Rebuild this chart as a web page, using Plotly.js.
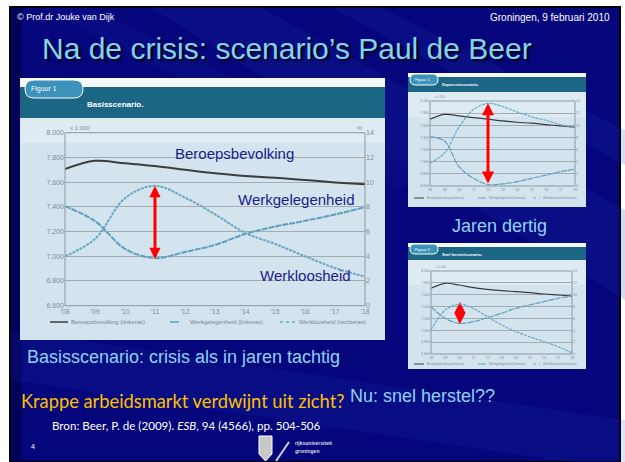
<!DOCTYPE html>
<html><head><meta charset="utf-8">
<script src="https://cdn.plot.ly/plotly-3.0.1.min.js"></script>
<style>html,body{margin:0;padding:0;background:#fff;}#c{width:625px;height:462px;}</style>
</head><body><div id="c"></div>
<script>
// ---- data ----
const years = [2008,2009,2010,2011,2012,2013,2014,2015,2016,2017,2018];
const yearLabels = ["'08","'09","'10","'11","'12","'13","'14","'15","'16","'17","'18"];
const leftTicks = [6600,6800,7000,7200,7400,7600,7800,8000];
const rightTicks = [0,2,4,6,8,10,12,14];

// Figuur 1 - Basisscenario
const bbMain = [7705,7772,7752,7730,7700,7672,7650,7636,7617,7598,7582];
const wgMain = [7405,7285,7060,6985,7035,7092,7180,7240,7287,7338,7397];
const wlMain = [4.0,5.4,8.7,9.7,8.75,7.4,5.9,5.0,4.0,3.05,2.35];

// Figuur 2 - Depressiescenario (jaren dertig)
const bbS1 = [7700,7780,7754,7727,7700,7672,7650,7634,7612,7590,7568];
const wgS1 = [7409,7340,6920,6726,6625,6635,6671,6726,6780,6835,6879];
const wlS1 = [3.8,5.4,9.7,12.6,13.6,13.1,12.2,11.4,10.8,10.1,9.6];

// Figuur 3 - Snel herstel
const bbS2 = [7708,7792,7764,7719,7691,7668,7652,7635,7612,7595,7578];
const wgS2 = [7398,7202,7117,7145,7213,7286,7370,7427,7483,7539,7578];
const wlS2 = [4.05,7.4,8.4,7.7,6.3,4.9,3.8,2.9,2.1,1.25,0.2];

// highlight marks (year, low, high)
const mainArrow = [2011, 6965, 7568];
const s1Arrow = [2012, 6618, 7962];
const s2Diamond = [2010.05, 7290];

const seriesNames = ["Beroepsbevolking (linkeras)","Werkgelegenheid (linkeras)","Werkloosheid (rechteras)"];

// ---- helpers ----
const W=625,H=462;
const X=v=>v/W, Y=v=>1-v/H;
const dom=(a,b)=>[X(a),X(b)];
const domY=(top,bot)=>[Y(bot),Y(top)];
const C_BB='#3a3d40', C_WG='#5e9fbf', C_WL='#6aa9c6';

function lineTraces(bb,wg,wl,xa,yl,yr,w){
  return [
    {x:years,y:bb,xaxis:xa,yaxis:yl,type:'scatter',mode:'lines',line:{color:C_BB,width:w,shape:'spline'},name:seriesNames[0],showlegend:false,hoverinfo:'skip'},
    {x:years,y:wg,xaxis:xa,yaxis:yl,type:'scatter',mode:'lines',line:{color:C_WG,width:w,shape:'spline',dash:'6px,1px'},name:seriesNames[1],showlegend:false,hoverinfo:'skip'},
    {x:years,y:wl,xaxis:xa,yaxis:yr,type:'scatter',mode:'lines',line:{color:C_WL,width:w,shape:'spline',dash:'3px,1px'},name:seriesNames[2],showlegend:false,hoverinfo:'skip'}
  ];
}
const data = [].concat(
  lineTraces(bbMain,wgMain,wlMain,'x','y','y2',2),
  lineTraces(bbS1,wgS1,wlS1,'x2','y3','y4',1.2),
  lineTraces(bbS2,wgS2,wlS2,'x3','y5','y6',1.2),
  [{x:[s2Diamond[0]],y:[s2Diamond[1]],xaxis:'x3',yaxis:'y5',type:'scatter',mode:'markers',
    marker:{symbol:'diamond-tall',size:16,color:'#ff0000'},showlegend:false,hoverinfo:'skip'}]
);

function xax(d,anchor,fs){return {domain:d,anchor:anchor,range:[2008,2018],tickvals:years,ticktext:yearLabels,
  tickfont:{size:fs,color:'#7f8c96',family:'Liberation Sans'},showgrid:false,zeroline:false,showline:false,ticks:'',fixedrange:true};}
function yl(d,anchor,fs){return {domain:d,anchor:anchor,range:[6600,8000],tickvals:leftTicks,tickformat:',d',
  tickfont:{size:fs,color:'#7f8c96',family:'Liberation Sans'},gridcolor:'#a3acb3',gridwidth:1,zeroline:false,showline:false,ticks:'',fixedrange:true};}
function yr(over,anchor,fs){return {overlaying:over,anchor:anchor,side:'right',range:[0,14],tickvals:rightTicks,
  tickfont:{size:fs,color:'#7f8c96',family:'Liberation Sans'},showgrid:false,zeroline:false,showline:false,ticks:'',fixedrange:true};}

function rr(x0,y0,x1,y1,r){ // rounded rect path in paper coords
  const rx=r/W, ry=r/H; const a=X(x0),b=X(x1),t=Y(y0),u=Y(y1);
  return `M${a+rx},${t} L${b-rx},${t} Q${b},${t} ${b},${t-ry} L${b},${u+ry} Q${b},${u} ${b-rx},${u} L${a+rx},${u} Q${a},${u} ${a},${u+ry} L${a},${t-ry} Q${a},${t} ${a+rx},${t} Z`;
}
function poly(pts){return 'M'+pts.map(p=>X(p[0])+','+Y(p[1])).join(' L')+' Z';}
const P=(o)=>Object.assign({xref:'paper',yref:'paper',layer:'below'},o);

const shapes = [
  // slide background
  P({type:'rect',x0:X(10),x1:X(620),y0:Y(7),y1:Y(462),fillcolor:'#05067c',line:{color:'#000',width:2}}),
  P({type:'rect',x0:X(11),x1:X(22),y0:Y(8),y1:Y(462),fillcolor:'#000040',opacity:0.55,line:{width:0}}),
  P({type:'path',path:poly([[150,7],[260,7],[625,210],[625,300]]),fillcolor:'#2438b0',opacity:0.18,line:{width:0}}),
  P({type:'path',path:poly([[330,7],[380,7],[625,130],[625,165]]),fillcolor:'#2438b0',opacity:0.16,line:{width:0}}),
  P({type:'path',path:poly([[10,330],[10,380],[625,470],[625,420]]),fillcolor:'#2438b0',opacity:0.14,line:{width:0}}),
  P({type:'path',path:poly([[40,7],[90,7],[420,170],[400,190]]),fillcolor:'#2438b0',opacity:0.10,line:{width:0}}),
];

// figure panels
function panel(x0,x1,top,barTop,barBot,bot,tab,plot){
  shapes.push(P({type:'rect',x0:X(x0),x1:X(x1),y0:Y(top),y1:Y(bot),fillcolor:'#d3e4ee',line:{width:0}}));
  shapes.push(P({type:'rect',x0:X(x0),x1:X(x1),y0:Y(top),y1:Y(barTop),fillcolor:'#f4f8fa',line:{width:0}}));
  shapes.push(P({type:'rect',x0:X(x0),x1:X(x1),y0:Y(barTop),y1:Y(barBot),fillcolor:'#1b6585',line:{width:0}}));
  shapes.push(P({type:'rect',x0:X(x0),x1:X(x1),y0:Y(barBot),y1:Y(barBot+25),fillcolor:'#e6f0f5',opacity:0.6,line:{width:0}}));
  shapes.push(P({type:'path',path:rr(tab[0],tab[1],tab[2],tab[3],(tab[3]-tab[1])/2),fillcolor:'#3c92b8',line:{color:'#ffffff',width:1}}));
  shapes.push(P({type:'rect',x0:X(plot[0]),x1:X(plot[1]),y0:Y(plot[2]),y1:Y(plot[3]),fillcolor:'rgba(0,0,0,0)',line:{color:'#8d979f',width:1},layer:'above'}));
}
panel(20,385,78,87,118,340,[25,80,83,98],[65,365,132.7,305.7]);
panel(408,586,73,77,92,207,[410,74,438,85],[430,575,101,186]);
panel(408,586,243,247,260,369,[410,244,438,254],[431,572,271,354]);

// legend samples
function legendRow(y,items,w){
  items.forEach((it,i)=>{
    shapes.push(P({type:'line',x0:X(it[0]),x1:X(it[1]),y0:Y(y),y1:Y(y),layer:'above',
      line:{color:[C_BB,C_WG,C_WL][i],width:w,dash:['solid','dash','dot'][i]}}));
  });
}
legendRow(322,[[50,68],[170,187],[280,295]],1.5);
legendRow(198,[[414,424],[478,486],[533,540]],1);
legendRow(364,[[414,424],[478,486],[533,540]],1);

const ann = [];
function T(x,y,text,size,color,opts){ann.push(Object.assign({xref:'paper',yref:'paper',x:X(x),y:Y(y),text:text,showarrow:false,
  xanchor:'left',yanchor:'middle',font:{size:size,color:color,family:'Liberation Sans'}},opts||{}));}

T(15,17,'© Prof.dr Jouke van Dijk',9,'#ffffff');
T(612,17,'Groningen, 9 februari 2010',10,'#ffffff',{xanchor:'right'});
T(40,48,'Na de crisis: scenario’s Paul de Beer',30,'#84d3f0',{font:{size:30,color:'#84d3f0',family:'Liberation Sans',shadow:'2px 2px 2px #000010'}});
// figure headers
T(29,89,'Figuur 1',7,'#ffffff');
T(85,104,'<b>Basisscenario.</b>',8,'#ffffff');
T(413,79.5,'Figuur 2',4,'#ffffff');
T(440,85,'<b>Depressiescenario.</b>',4,'#ffffff');
T(413,249,'Figuur 3',4,'#ffffff');
T(440,254,'<b>Snel herstelscenario.</b>',4,'#ffffff');
// axis unit labels
T(68,128,'x 1.000',6,'#7f8c96');
T(365,128,'%',6,'#7f8c96',{xanchor:'right'});
T(433,97,'x 1.000',3,'#7f8c96');
T(434,267,'x 1.000',3,'#7f8c96');
// chart labels
T(234,153,'Beroepsbevolking',15,'#1c1c8a',{xanchor:'center'});
T(296,199,'Werkgelegenheid',15,'#1c1c8a',{xanchor:'center'});
T(305,275,'Werkloosheid',15,'#1c1c8a',{xanchor:'center'});
// legends text
T(69,322,seriesNames[0],6,'#7a8791');
T(188,322,seriesNames[1],6,'#7a8791');
T(297,322,seriesNames[2],6,'#7a8791');
T(425,198,seriesNames[0],3,'#7a8791');
T(487,198,seriesNames[1],3,'#7a8791');
T(541,198,seriesNames[2],3,'#7a8791');
T(425,364,seriesNames[0],3,'#7a8791');
T(487,364,seriesNames[1],3,'#7a8791');
T(541,364,seriesNames[2],3,'#7a8791');
// slide text
T(25,357,'Basisscenario: crisis als in jaren tachtig',18,'#8ed2f2');
T(499,226,'Jaren dertig',18,'#8ed2f2',{xanchor:'center'});
T(19,401,'Krappe arbeidsmarkt verdwijnt uit zicht?',18.3,'#ffc000',{font:{size:18.3,color:'#ffc000',family:'Lato'}});
T(348,396,'Nu: snel herstel??',18,'#8ed2f2');
T(50,425,'Bron: Beer, P. de (2009). <i>ESB</i>, 94 (4566), pp. 504-506',11.6,'#ffffff',{font:{size:11.6,color:'#ffffff',family:'Lato'}});
T(29,446,'4',7,'#ffffff');
T(293,443,'<b>rijksuniversiteit</b>',5,'#dddddd');
T(293,451,'<b>groningen</b>',5,'#dddddd');

// logo emblem + slash
shapes.push(P({type:'path',path:poly([[259,436],[272,436],[272,454],[265.5,461],[259,454]]),fillcolor:'#c8c8c8',line:{color:'#ffffff',width:1},layer:'above'}));
shapes.push(P({type:'line',x0:X(276),x1:X(289),y0:Y(461),y1:Y(442),line:{color:'#d0d0d0',width:2},layer:'above'}));

// arrows
function dblArrow(xa,ya,v,size){
  ann.push({xref:xa,yref:ya,axref:xa,ayref:ya,x:v[0],y:v[2],ax:v[0],ay:v[1],text:'',showarrow:true,
    arrowhead:2,startarrowhead:2,arrowside:'end+start',arrowsize:size,startarrowsize:size,arrowwidth:3,arrowcolor:'#ff0000',standoff:0,startstandoff:0});
}
dblArrow('x','y',mainArrow,0.75);
dblArrow('x2','y3',s1Arrow,0.8);

const layout = {
  width:W,height:H,margin:{l:0,r:0,t:0,b:0},paper_bgcolor:'#ffffff',plot_bgcolor:'#e9f1f6',
  separators:',.',showlegend:false,
  xaxis:xax(dom(65,365),'y',7),
  yaxis:yl(domY(132.7,305.7),'x',7),
  yaxis2:yr('y','x',7),
  xaxis2:xax(dom(430,575),'y3',3.5),
  yaxis3:yl(domY(101,186),'x2',3.5),
  yaxis4:yr('y3','x2',3.5),
  xaxis3:xax(dom(431,572),'y5',3.5),
  yaxis5:yl(domY(271,354),'x3',3.5),
  yaxis6:yr('y5','x3',3.5),
  shapes:shapes,annotations:ann
};
Plotly.newPlot('c',data,layout,{displayModeBar:false,staticPlot:true});
</script></body></html>
